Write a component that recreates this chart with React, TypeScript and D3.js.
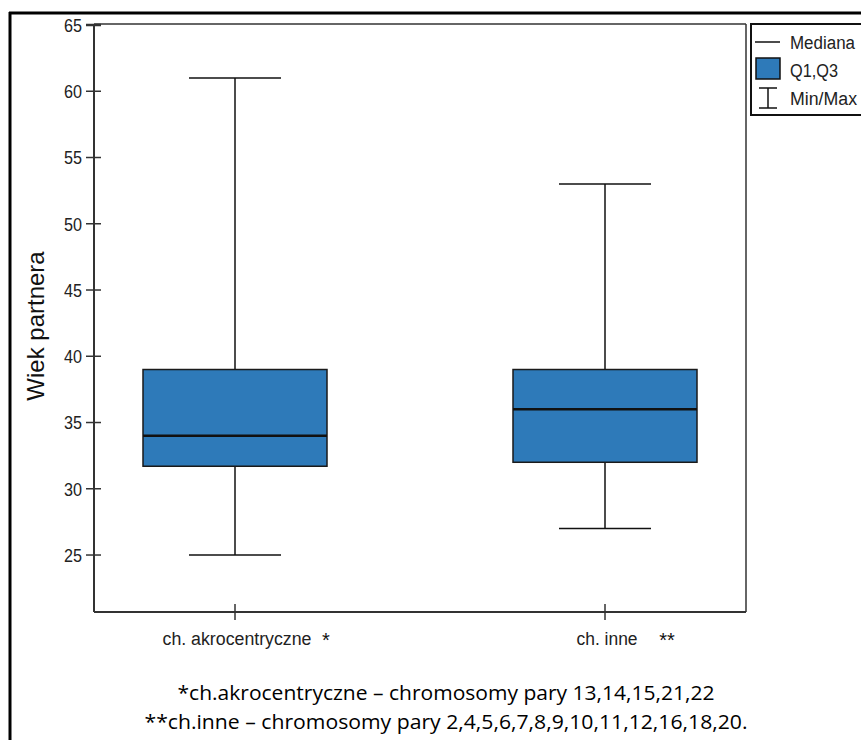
import * as d3 from 'd3';
import React from 'react';

// box plot summary per group
const groups = ['ch. akrocentryczne', 'ch. inne'];
const marks = ['*', '**'];
const mins = [25, 27];
const q1s = [31.7, 32];
const medians = [34, 36];
const q3s = [39, 39];
const maxs = [61, 53];
const yTicks = [25, 30, 35, 40, 45, 50, 55, 60, 65];
const legendLabels = ['Mediana', 'Q1,Q3', 'Min/Max'];
const notes = [
  '*ch.akrocentryczne – chromosomy pary 13,14,15,21,22',
  '**ch.inne – chromosomy pary 2,4,5,6,7,8,9,10,11,12,16,18,20.',
];

const W = 861;
const H = 740;
const plot = { left: 94, right: 746, top: 24, bottom: 612 };
const boxFill = '#2e7ab9';
const sans = "'Liberation Sans', Arial, sans-serif";

// approximate widths of a narrow font (Arial Narrow look)
const narrowWidth = (s: string, size: number) => s.length * size * 0.43;

export default function App() {
  const y = d3.scaleLinear().domain([20.7, 65]).range([plot.bottom, 25]);
  const x = d3.scalePoint<string>().domain(groups).range([235, 605]);
  const boxHalf = 92;
  const capHalf = 46;
  const axisCol = '#333';
  const groupWidths = [149, 61];
  const legendWidths = [65, 48, 67];

  return (
    <svg width={W} height={H} style={{ position: 'absolute', left: 0, top: 0, background: '#fff' }}>
      {/* outer frame */}
      <line x1={9} x2={W} y1={13} y2={13} stroke="#000" strokeWidth={3} />
      <line x1={10} x2={10} y1={12} y2={H} stroke="#000" strokeWidth={3} />

      {/* plot box */}
      <line x1={plot.left} x2={plot.right} y1={plot.top} y2={plot.top} stroke={axisCol} strokeWidth={1.5} />
      <line x1={plot.right} x2={plot.right} y1={plot.top} y2={plot.bottom} stroke={axisCol} strokeWidth={1.5} />
      <line x1={plot.left} x2={plot.right} y1={plot.bottom} y2={plot.bottom} stroke={axisCol} strokeWidth={2} />
      <line x1={plot.left} x2={plot.left} y1={plot.top} y2={plot.bottom} stroke={axisCol} strokeWidth={2} />

      {/* y axis */}
      {yTicks.map((t) => (
        <g key={t}>
          <line x1={86} x2={101} y1={y(t)} y2={y(t)} stroke={axisCol} strokeWidth={t === 65 ? 2.5 : 1.5} />
          <text
            x={82}
            y={y(t)}
            dy="0.36em"
            textAnchor="end"
            fontSize={19}
            fontFamily={sans}
            textLength={18}
            lengthAdjust="spacingAndGlyphs"
            fill="#222"
          >
            {t}
          </text>
        </g>
      ))}
      <text transform={`translate(44, 326) rotate(-90)`} textAnchor="middle" fontSize={24} fontFamily={sans} fill="#111">
        Wiek partnera
      </text>

      {/* x axis */}
      {groups.map((g, i) => (
        <g key={g}>
          <line x1={x(g)} x2={x(g)} y1={604} y2={620} stroke={axisCol} strokeWidth={1.5} />
          <text
            x={x(g)! + 2}
            y={645}
            textAnchor="middle"
            fontSize={18}
            fontFamily={sans}
            textLength={groupWidths[i] ?? narrowWidth(g, 18)}
            lengthAdjust="spacingAndGlyphs"
            fill="#222"
          >
            {g}
          </text>
          <text x={i === 0 ? 326 : 667} y={647} textAnchor="middle" fontSize={20} fontFamily={sans} fill="#111">
            {marks[i]}
          </text>
        </g>
      ))}

      {/* boxes */}
      {groups.map((g, i) => {
        const cx = x(g)!;
        return (
          <g key={g}>
            <line x1={cx} x2={cx} y1={y(maxs[i])} y2={y(q3s[i])} stroke="#111" strokeWidth={1.5} />
            <line x1={cx} x2={cx} y1={y(q1s[i])} y2={y(mins[i])} stroke="#111" strokeWidth={1.5} />
            <line x1={cx - capHalf} x2={cx + capHalf} y1={y(maxs[i])} y2={y(maxs[i])} stroke="#111" strokeWidth={1.5} />
            <line x1={cx - capHalf} x2={cx + capHalf} y1={y(mins[i])} y2={y(mins[i])} stroke="#111" strokeWidth={1.5} />
            <rect
              x={cx - boxHalf}
              y={y(q3s[i])}
              width={boxHalf * 2}
              height={y(q1s[i]) - y(q3s[i])}
              fill={boxFill}
              stroke="#1a1a1a"
              strokeWidth={1.5}
            />
            <line x1={cx - boxHalf} x2={cx + boxHalf} y1={y(medians[i])} y2={y(medians[i])} stroke="#111" strokeWidth={2.5} />
          </g>
        );
      })}

      {/* legend */}
      <rect x={751} y={24} width={120} height={91} fill="#fff" stroke="#111" strokeWidth={2} />
      <line x1={755} x2={780} y1={42} y2={42} stroke="#111" strokeWidth={1.5} />
      <rect x={756} y={58} width={24} height={21} fill={boxFill} stroke="#111" strokeWidth={1.5} />
      <line x1={768} x2={768} y1={88} y2={108} stroke="#111" strokeWidth={1.5} />
      <line x1={759} x2={777} y1={88} y2={88} stroke="#111" strokeWidth={1.5} />
      <line x1={759} x2={777} y1={108} y2={108} stroke="#111" strokeWidth={1.5} />
      {legendLabels.map((l, i) => (
        <text
          key={l}
          x={790}
          y={43 + i * 28}
          dy="0.36em"
          fontSize={18}
          fontFamily={sans}
          textLength={legendWidths[i]}
          lengthAdjust="spacingAndGlyphs"
          fill="#222"
        >
          {l}
        </text>
      ))}

      {/* footnotes */}
      {notes.map((n, i) => (
        <text
          key={n}
          x={446}
          y={700 + i * 29}
          textAnchor="middle"
          fontSize={20}
          fontFamily="'Open Sans', 'Noto Sans', sans-serif"
          textLength={i === 0 ? 537 : 603}
          lengthAdjust="spacingAndGlyphs"
          fill="#000"
        >
          {n}
        </text>
      ))}
    </svg>
  );
}
